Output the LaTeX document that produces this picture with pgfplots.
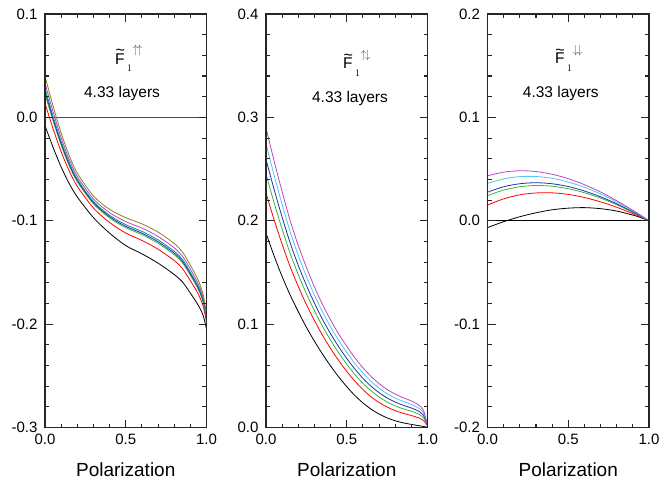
\documentclass[border=0pt]{standalone}
\usepackage{pgfplots}
\pgfplotsset{compat=1.18}
\usepackage{fontspec}
\setmainfont{Liberation Sans}
\definecolor{cgreen}{RGB}{60,180,60}
\definecolor{cblue}{RGB}{30,50,180}
\definecolor{ccyan}{RGB}{80,200,230}
\definecolor{cteal}{RGB}{0,140,150}
\definecolor{cmag}{RGB}{190,70,190}
\definecolor{colive}{RGB}{130,130,40}
\tikzset{tk/.style={line width=1.1pt, black!85}}
\pgfplotsset{
  panel/.style={
    scale only axis, width=161.5pt, height=413.5pt, clip=false,
    xmin=0, xmax=1, xtick={0,0.5,1}, minor x tick num=4, minor y tick num=4,
    tick align=inside, major tick length=8pt, minor tick length=4pt,
    axis line style={line width=1.6pt, black!85},
    tick style={draw=none},
    tick label style={font=\fontsize{15}{18}\selectfont},
    xticklabel style={yshift=-3pt, /pgf/number format/.cd, fixed, fixed zerofill, precision=1, assume math mode=true},
    yticklabel style={xshift=-4pt, /pgf/number format/.cd, fixed, fixed zerofill, precision=1, assume math mode=true},
    xlabel=Polarization,
    xlabel style={font=\fontsize{19}{22}\selectfont, at={(axis description cs:0.5,0)}, anchor=base, yshift=-49pt},
    every axis plot/.append style={line width=0.8pt, smooth},
  },
}
% #1 major y, #2 minor y, #3 ymin, #4 ymin+long, #5 ymin+short, #6 ymax, #7 ymax-long, #8 ymax-short
\newcommand{\frameticks}[8]{%
  \pgfplotsinvokeforeach{0,0.5,1}{\draw[tk] (axis cs:##1,#3) -- (axis cs:##1,#4); \draw[tk] (axis cs:##1,#6) -- (axis cs:##1,#7);}
  \pgfplotsinvokeforeach{0.1,0.2,0.3,0.4,0.6,0.7,0.8,0.9}{\draw[tk] (axis cs:##1,#3) -- (axis cs:##1,#5); \draw[tk] (axis cs:##1,#6) -- (axis cs:##1,#8);}
  \pgfplotsinvokeforeach{#1}{\draw[tk] (axis cs:0,##1) -- (axis cs:0.0495,##1); \draw[tk] (axis cs:1,##1) -- (axis cs:0.9505,##1);}
  \pgfplotsinvokeforeach{#2}{\draw[tk] (axis cs:0,##1) -- (axis cs:0.0248,##1); \draw[tk] (axis cs:1,##1) -- (axis cs:0.9752,##1);}
  \draw[line width=1.8pt, black!85] (axis cs:0,#3) -- (axis cs:1,#3) -- (axis cs:1,#6) -- (axis cs:0,#6) -- cycle;
}
\newcommand{\ttl}[1]{{\fontsize{15.5}{16}\selectfont\rlap{\hspace{0.4pt}\raisebox{8.5pt}{\fontsize{16}{16}\selectfont\textasciitilde}}F}\hspace{2.5pt}\rlap{\raisebox{-7.6pt}{\fontsize{10}{10}\selectfont$1$}}\hspace{5.5pt}\raisebox{10.5pt}{\color{black!65}\fontsize{12}{12}\selectfont$#1$}}
\begin{document}
\begin{tikzpicture}
\useasboundingbox (0,0) rectangle (660pt,-489pt);
% ---------- panel 1 ----------
\begin{axis}[panel, at={(45pt,-427.5pt)}, anchor=south west, ymin=-0.3, ymax=0.1, ytick={-0.3,-0.2,-0.1,0,0.1}]
\addplot[gray!60!black, line width=0.8pt] coordinates {(0,0) (1,0)};
\addplot[black] coordinates {(0,-0.008) (0.05,-0.029) (0.1,-0.048) (0.15,-0.064) (0.2,-0.077) (0.3,-0.097) (0.4,-0.112) (0.5,-0.124) (0.6,-0.132) (0.7,-0.141) (0.8,-0.152) (0.85,-0.159) (0.9,-0.170) (0.95,-0.182) (0.98,-0.192) (1,-0.205)};
\addplot[red] coordinates {(0,0.0136) (0.05,-0.011) (0.1,-0.0332) (0.15,-0.0519) (0.2,-0.0667) (0.3,-0.0876) (0.4,-0.1017) (0.5,-0.1119) (0.6,-0.119) (0.7,-0.1275) (0.8,-0.1385) (0.85,-0.146) (0.9,-0.1579) (0.95,-0.1712) (0.98,-0.183) (1,-0.1983)};
\addplot[cgreen] coordinates {(0,0.0227) (0.05,-0.0034) (0.1,-0.0269) (0.15,-0.0467) (0.2,-0.0623) (0.3,-0.0836) (0.4,-0.0973) (0.5,-0.1067) (0.6,-0.1134) (0.7,-0.1218) (0.8,-0.1328) (0.85,-0.1404) (0.9,-0.1527) (0.95,-0.1666) (0.98,-0.1792) (1,-0.1954)};
\addplot[cblue] coordinates {(0,0.0251) (0.05,-0.0014) (0.1,-0.0252) (0.15,-0.0454) (0.2,-0.0611) (0.3,-0.0825) (0.4,-0.0961) (0.5,-0.1054) (0.6,-0.112) (0.7,-0.1203) (0.8,-0.1313) (0.85,-0.139) (0.9,-0.1514) (0.95,-0.1654) (0.98,-0.1782) (1,-0.1947)};
\addplot[cteal] coordinates {(0,0.028) (0.05,0.001) (0.1,-0.0233) (0.15,-0.0438) (0.2,-0.0598) (0.3,-0.0813) (0.4,-0.0948) (0.5,-0.1038) (0.6,-0.1103) (0.7,-0.1185) (0.8,-0.1295) (0.85,-0.1373) (0.9,-0.1498) (0.95,-0.164) (0.98,-0.177) (1,-0.1938)};
\addplot[cmag] coordinates {(0,0.0333) (0.05,0.0054) (0.1,-0.0196) (0.15,-0.0408) (0.2,-0.0572) (0.3,-0.0789) (0.4,-0.0922) (0.5,-0.1008) (0.6,-0.1071) (0.7,-0.1152) (0.8,-0.1262) (0.85,-0.1341) (0.9,-0.1468) (0.95,-0.1614) (0.98,-0.1748) (1,-0.1921)};
\addplot[colive] coordinates {(0,0.040) (0.05,0.011) (0.1,-0.015) (0.15,-0.037) (0.2,-0.054) (0.3,-0.076) (0.4,-0.089) (0.5,-0.097) (0.6,-0.103) (0.7,-0.111) (0.8,-0.122) (0.85,-0.130) (0.9,-0.143) (0.95,-0.158) (0.98,-0.172) (1,-0.190)};
\frameticks{-0.3,-0.2,-0.1,0,0.1}{-0.28,-0.26,-0.24,-0.22,-0.18,-0.16,-0.14,-0.12,-0.08,-0.06,-0.04,-0.02,0.02,0.04,0.06,0.08}{-0.3}{-0.29226}{-0.29613}{0.1}{0.09226}{0.09613}
\node[anchor=base west, inner sep=0pt] at (axis cs:0.433,0.0516) {\ttl{\uparrow\!\uparrow}};
\node[anchor=base, inner sep=0pt, font=\fontsize{15.5}{18}\selectfont] at (axis cs:0.477,0.0193) {4.33 layers};
\end{axis}
% ---------- panel 2 ----------
\begin{axis}[panel, at={(266pt,-427.5pt)}, anchor=south west, ymin=0, ymax=0.4, ytick={0,0.1,0.2,0.3,0.4}]
\addplot[black] coordinates {(0,0.188) (0.05,0.166) (0.1,0.146) (0.15,0.128) (0.2,0.112) (0.25,0.097) (0.3,0.0835) (0.35,0.071) (0.4,0.0595) (0.45,0.049) (0.5,0.0395) (0.55,0.031) (0.6,0.0238) (0.65,0.0178) (0.7,0.013) (0.75,0.0093) (0.8,0.0065) (0.85,0.0045) (0.9,0.003) (0.95,0.0017) (0.975,0.001) (1,0.0003)};
\addplot[red] coordinates {(0,0.2268) (0.05,0.201) (0.1,0.1772) (0.15,0.1554) (0.2,0.1363) (0.25,0.119) (0.3,0.1035) (0.35,0.0892) (0.4,0.0764) (0.45,0.0648) (0.5,0.0543) (0.55,0.0449) (0.6,0.0367) (0.65,0.0298) (0.7,0.0242) (0.75,0.0198) (0.8,0.0163) (0.85,0.0137) (0.9,0.0116) (0.95,0.0091) (0.975,0.0069) (1,0.0013)};
\addplot[cgreen] coordinates {(0,0.2451) (0.05,0.2175) (0.1,0.1919) (0.15,0.1683) (0.2,0.1478) (0.25,0.1295) (0.3,0.1129) (0.35,0.0979) (0.4,0.0844) (0.45,0.0722) (0.5,0.0613) (0.55,0.0514) (0.6,0.0428) (0.65,0.0356) (0.7,0.0295) (0.75,0.0247) (0.8,0.0209) (0.85,0.0181) (0.9,0.0157) (0.95,0.0126) (0.975,0.0097) (1,0.0018)};
\addplot[cblue] coordinates {(0,0.2594) (0.05,0.2304) (0.1,0.2034) (0.15,0.1784) (0.2,0.1568) (0.25,0.1376) (0.3,0.1203) (0.35,0.1046) (0.4,0.0907) (0.45,0.0781) (0.5,0.0668) (0.55,0.0566) (0.6,0.0476) (0.65,0.04) (0.7,0.0337) (0.75,0.0286) (0.8,0.0246) (0.85,0.0215) (0.9,0.0189) (0.95,0.0154) (0.975,0.0119) (1,0.0022)};
\addplot[ccyan] coordinates {(0,0.2747) (0.05,0.2442) (0.1,0.2157) (0.15,0.1892) (0.2,0.1664) (0.25,0.1463) (0.3,0.1281) (0.35,0.1118) (0.4,0.0973) (0.45,0.0843) (0.5,0.0727) (0.55,0.062) (0.6,0.0527) (0.65,0.0447) (0.7,0.0381) (0.75,0.0327) (0.8,0.0284) (0.85,0.0252) (0.9,0.0223) (0.95,0.0183) (0.975,0.0142) (1,0.0026)};
\addplot[cmag] coordinates {(0,0.290) (0.05,0.258) (0.1,0.228) (0.15,0.200) (0.2,0.176) (0.25,0.155) (0.3,0.136) (0.35,0.119) (0.4,0.104) (0.45,0.0905) (0.5,0.0785) (0.55,0.0675) (0.6,0.0578) (0.65,0.0495) (0.7,0.0425) (0.75,0.0368) (0.8,0.0323) (0.85,0.0288) (0.9,0.0257) (0.95,0.0212) (0.975,0.0165) (1,0.003)};
\frameticks{0,0.1,0.2,0.3,0.4}{0.02,0.04,0.06,0.08,0.12,0.14,0.16,0.18,0.22,0.24,0.26,0.28,0.32,0.34,0.36,0.38}{0}{0.00774}{0.00387}{0.4}{0.39226}{0.39613}
\node[anchor=base west, inner sep=0pt] at (axis cs:0.477,0.3468) {\ttl{\uparrow\!\downarrow}};
\node[anchor=base, inner sep=0pt, font=\fontsize{15.5}{18}\selectfont] at (axis cs:0.52,0.3145) {4.33 layers};
\end{axis}
% ---------- panel 3 ----------
\begin{axis}[panel, at={(487.5pt,-427.5pt)}, anchor=south west, ymin=-0.2, ymax=0.2, ytick={-0.2,-0.1,0,0.1,0.2}]
\addplot[black, line width=0.8pt] coordinates {(0,0) (1,0)};
\addplot[black] coordinates {(0,-0.0066) (0.1,-0.0009) (0.2,0.0039) (0.3,0.0077) (0.4,0.0106) (0.5,0.0122) (0.6,0.0127) (0.7,0.0117) (0.8,0.0094) (0.9,0.0055) (0.95,0.0030) (1,0)};
\addplot[red] coordinates {(0,0.0152) (0.1,0.0212) (0.2,0.0251) (0.3,0.0269) (0.4,0.0270) (0.5,0.0255) (0.6,0.0225) (0.7,0.0183) (0.8,0.0131) (0.9,0.0069) (0.95,0.0035) (1,0)};
\addplot[cgreen] coordinates {(0,0.0243) (0.1,0.0297) (0.2,0.0329) (0.3,0.0341) (0.4,0.0334) (0.5,0.0310) (0.6,0.0271) (0.7,0.0219) (0.8,0.0155) (0.9,0.0081) (0.95,0.0042) (1,0)};
\addplot[cblue] coordinates {(0,0.0276) (0.1,0.0329) (0.2,0.0358) (0.3,0.0368) (0.4,0.0358) (0.5,0.0331) (0.6,0.0288) (0.7,0.0232) (0.8,0.0164) (0.9,0.0086) (0.95,0.0044) (1,0)};
\addplot[ccyan] coordinates {(0,0.0361) (0.1,0.0405) (0.2,0.0427) (0.3,0.0428) (0.4,0.0410) (0.5,0.0375) (0.6,0.0324) (0.7,0.0259) (0.8,0.0182) (0.9,0.0095) (0.95,0.0049) (1,0)};
\addplot[cmag] coordinates {(0,0.0435) (0.1,0.0470) (0.2,0.0484) (0.3,0.0476) (0.4,0.0450) (0.5,0.0407) (0.6,0.0349) (0.7,0.0278) (0.8,0.0194) (0.9,0.0101) (0.95,0.0052) (1,0)};
\frameticks{-0.2,-0.1,0,0.1,0.2}{-0.18,-0.16,-0.14,-0.12,-0.08,-0.06,-0.04,-0.02,0.02,0.04,0.06,0.08,0.12,0.14,0.16,0.18}{-0.2}{-0.19226}{-0.19613}{0.2}{0.19226}{0.19613}
\node[anchor=base west, inner sep=0pt] at (axis cs:0.417,0.152) {\ttl{\downarrow\!\downarrow}};
\node[anchor=base, inner sep=0pt, font=\fontsize{15.5}{18}\selectfont] at (axis cs:0.454,0.1188) {4.33 layers};
\end{axis}
\end{tikzpicture}
\end{document}
